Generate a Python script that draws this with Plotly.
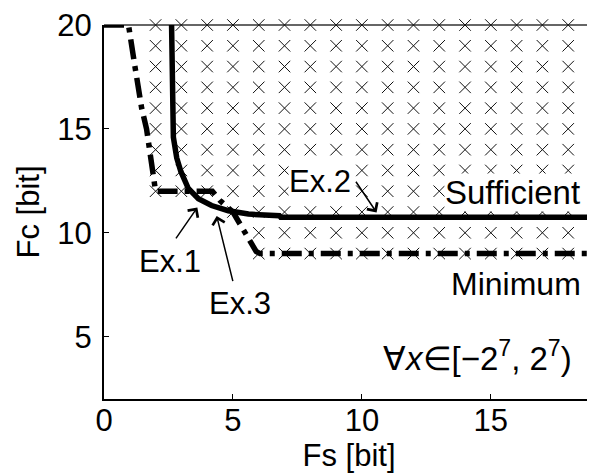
import plotly.graph_objects as go

# ---- data ----
suff_fs = [2.62, 2.65, 2.69, 2.82, 2.98, 3.27, 3.66, 4.17, 4.82, 5.6, 6.8, 6.85, 19]
suff_fc = [20, 16, 14.6, 13.6, 12.95, 12.13, 11.64, 11.31, 11.06, 10.9, 10.82, 10.75, 10.75]

min_fs = [0, 0.95, 1.2, 1.46, 1.65, 1.78, 1.9, 2.0, 4.2, 4.5, 5.0, 5.45, 5.9, 6.05, 19]
min_fc = [20, 20, 18, 16, 15, 14, 13, 12, 12, 11.55, 11.0, 10.1, 9.1, 9, 9]

cross_fc_rows = [20, 19, 18, 17, 16, 15, 14, 13, 12, 11, 10, 9]
cross_fs_start = [2, 2, 2, 2, 2, 2, 2, 2, 2, 5, 6, 6]
cross_fs_end = 19

x_ticks = [0, 5, 10, 15]
y_ticks = [5, 10, 15, 20]

FONT = "Liberation Sans"
FS = 31

cx, cy = [], []
for fc, s in zip(cross_fc_rows, cross_fs_start):
    for fs in range(s, cross_fs_end + 1):
        cx.append(fs)
        cy.append(fc)

fig = go.Figure()
fig.add_trace(go.Scatter(x=cx, y=cy, mode="markers", cliponaxis=False,
                         marker=dict(symbol="x-thin", size=11.5, line=dict(width=1, color="#111")),
                         hoverinfo="skip", showlegend=False))
fig.add_trace(go.Scatter(x=min_fs, y=min_fc, mode="lines",
                         line=dict(color="black", width=5.5, dash="20px,7px,5px,7px"),
                         showlegend=False))
fig.add_trace(go.Scatter(x=suff_fs, y=suff_fc, mode="lines",
                         line=dict(color="black", width=5.5),
                         showlegend=False))

ann = []
def txt(x, y, t, size=FS):
    ann.append(dict(x=x, y=y, xref="x", yref="y", text=t, showarrow=False,
                    font=dict(family=FONT, size=size, color="black"),
                    bgcolor="white", borderpad=0))

def arrow(xh, yh, xt, yt):
    ann.append(dict(x=xh, y=yh, ax=xt, ay=yt, xref="x", yref="y", axref="x", ayref="y",
                    text="", showarrow=True, arrowhead=4, arrowsize=1.6, arrowwidth=1.5,
                    arrowcolor="black", standoff=0, startstandoff=0))

txt(8.37, 12.47, "Ex.2")
txt(15.85, 11.93, "Sufficient", 33)
txt(15.99, 7.54, "Minimum", 32)
txt(2.56, 8.6, "Ex.1")
txt(5.27, 6.62, "Ex.3")
txt(14.47, 4.09, "∀<i>x</i>∈[−2<sup>7</sup>, 2<sup>7</sup>)", 33)
arrow(10.57, 10.98, 9.73, 12.53)
arrow(3.62, 11.22, 2.75, 9.66)
arrow(4.37, 10.81, 5.01, 7.6)

# the page body has an 8px margin, so the figure is drawn 8px smaller
fig.update_layout(
    width=587, height=468,
    margin=dict(l=96, r=1, t=17, b=77),
    paper_bgcolor="white", plot_bgcolor="white",
    font=dict(family=FONT, size=FS, color="black"),
    annotations=ann,
    shapes=[dict(type="line", xref="paper", yref="paper", x0=0, x1=1, y0=1, y1=1,
                 line=dict(color="#333", width=1.5), layer="below")],
    xaxis=dict(range=[0, 19], tickvals=x_ticks, showgrid=False, zeroline=False,
               showline=True, linecolor="black", linewidth=2,
               ticks="inside", ticklen=5, tickwidth=1, tickcolor="black",
               ticklabelstandoff=-7, ticklabeloverflow="allow",
               title=dict(text="Fs [bit]", font=dict(family=FONT, size=FS), standoff=6)),
    yaxis=dict(range=[2, 20], tickvals=y_ticks, showgrid=False, zeroline=False,
               showline=True, linecolor="black", linewidth=2,
               ticks="inside", ticklen=5, tickwidth=1, tickcolor="black",
               ticklabelstandoff=4, ticklabeloverflow="allow",
               title=dict(text="Fc [bit]", font=dict(family=FONT, size=FS), standoff=8)),
)

fig.write_html("out.html")
